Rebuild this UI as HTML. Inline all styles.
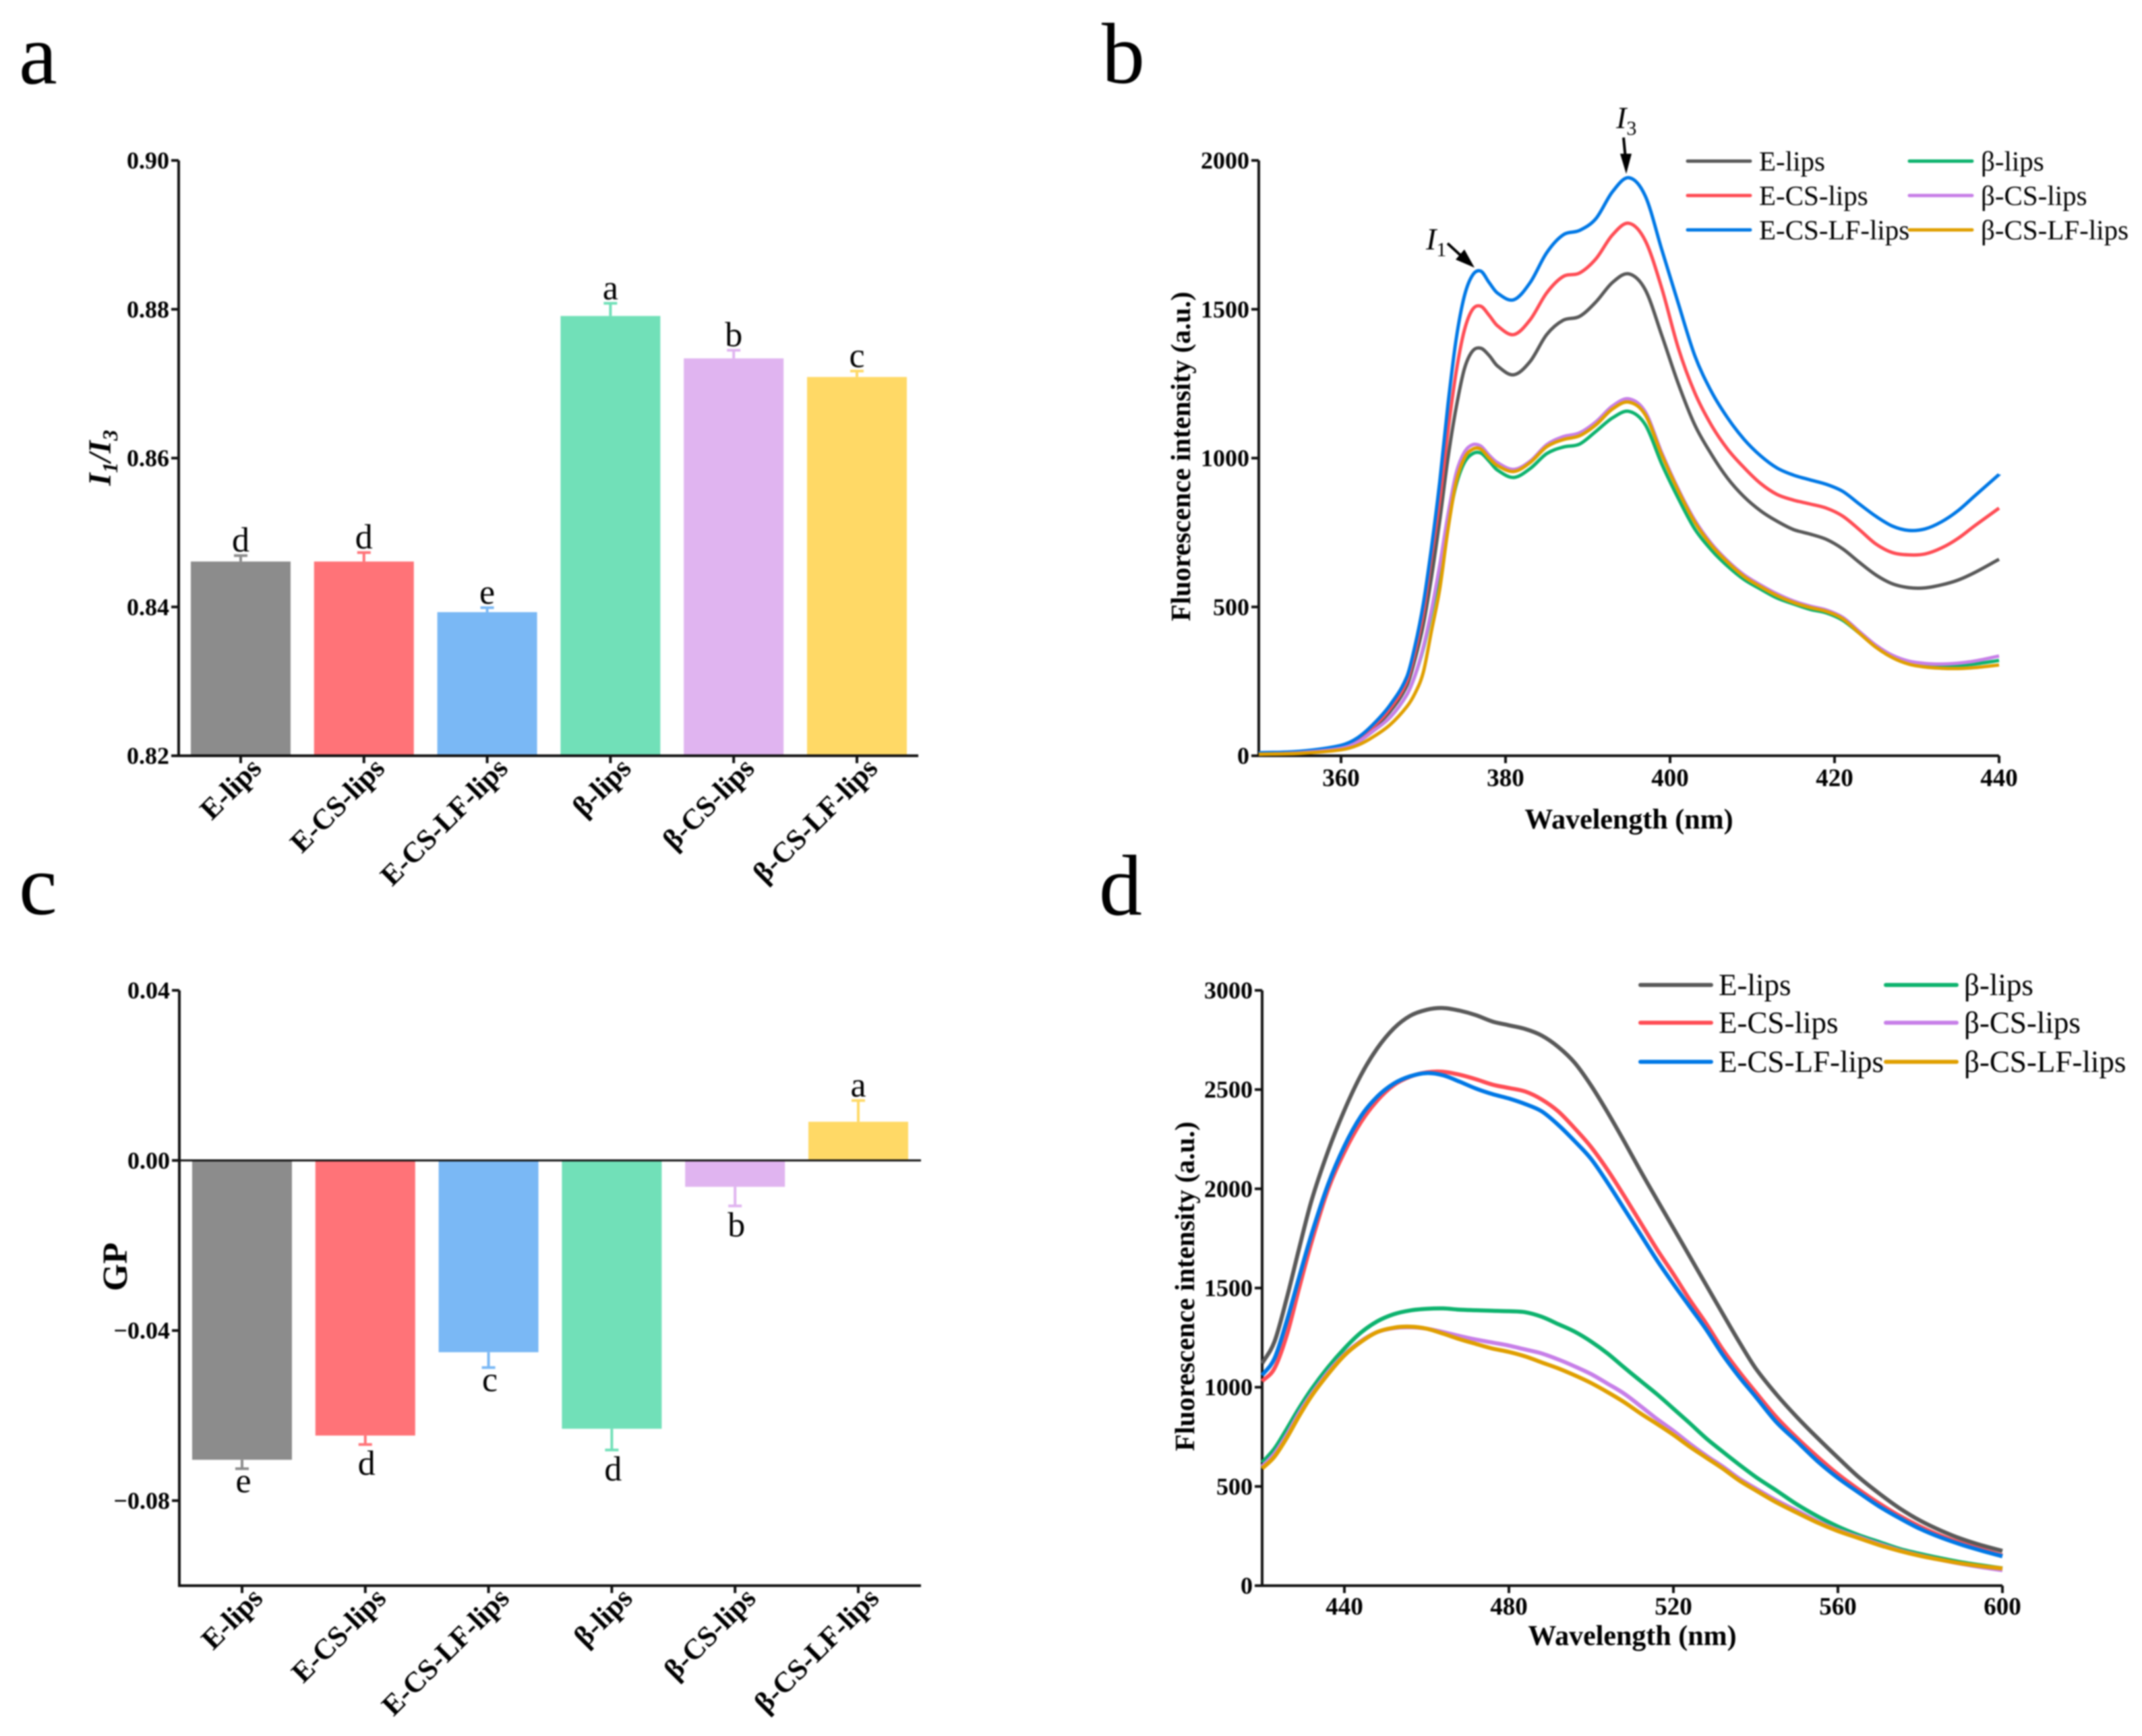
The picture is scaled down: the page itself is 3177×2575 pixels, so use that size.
<!DOCTYPE html>
<html lang="en">
<head>
<meta charset="utf-8">
<title>Fluorescence figure</title>
<style>
html,body{margin:0;padding:0;background:#fff;}
body{width:3177px;height:2575px;overflow:hidden;}
#figure{display:block;filter:blur(1.1px);font-family:"Liberation Serif",serif;}
</style>
</head>
<body>
<svg id="figure" xmlns="http://www.w3.org/2000/svg" width="3177" height="2575" viewBox="0 0 3177 2575">
  <rect x="0" y="0" width="3177" height="2575" fill="#ffffff"/>
  <text x="28" y="124" font-size="128">a</text>
  <text x="1634" y="123" font-size="128">b</text>
  <text x="28" y="1356" font-size="128">c</text>
  <text x="1630" y="1357" font-size="128">d</text>

  <text transform="translate(164,679) rotate(-90)" text-anchor="middle" font-size="48" font-weight="bold" font-style="italic">I<tspan font-size="32" dy="10">1</tspan><tspan dy="-10">/I</tspan><tspan font-size="32" dy="10">3</tspan></text>
  <text transform="translate(188,1879) rotate(-90)" text-anchor="middle" font-size="52" font-weight="bold">GP</text>
  <text transform="translate(1765,677) rotate(-90)" text-anchor="middle" font-size="41" font-weight="bold">Fluorescence intensity (a.u.)</text>
  <text transform="translate(1771,1908) rotate(-90)" text-anchor="middle" font-size="41" font-weight="bold">Fluorescence intensity (a.u.)</text>
  <text x="2416" y="1229" text-anchor="middle" font-size="42" font-weight="bold">Wavelength (nm)</text>
  <text x="2421" y="2440" text-anchor="middle" font-size="42" font-weight="bold">Wavelength (nm)</text>

  <g id="panel-a"></g>
  <g id="panel-b"></g>
  <g id="panel-c"></g>
  <g id="panel-d"></g>

  <g>
    <text x="2115" y="370" font-size="46" font-style="italic">I<tspan font-size="30" font-style="normal" dy="10">1</tspan></text>
    <line x1="2147" y1="361" x2="2172" y2="384" stroke="#000" stroke-width="4"/>
    <polygon points="2187,397 2159,385 2172,370" fill="#000"/>
    <text x="2397" y="190" font-size="46" font-style="italic">I<tspan font-size="30" font-style="normal" dy="10">3</tspan></text>
    <line x1="2408" y1="204" x2="2411" y2="235" stroke="#000" stroke-width="4"/>
    <polygon points="2412,258 2403,228 2420,228" fill="#000"/>
  </g>
</svg>
<script>
const categories = ['E-lips', 'E-CS-lips', 'E-CS-LF-lips', 'β-lips', 'β-CS-lips', 'β-CS-LF-lips'];
const barColors = ['#8c8c8c', '#ff7378', '#7ab8f5', '#71e0b8', '#e0b4f0', '#ffd966'];
const lineColors = ['#595959', '#ff4d55', '#0078e6', '#0db36e', '#c77fe8', '#e09f00'];

const aValues = [0.8461, 0.8461, 0.8393, 0.8791, 0.8734, 0.8709];
const aErrors = [0.0008, 0.0012, 0.0006, 0.0017, 0.0011, 0.0008];
const aLetters = ['d', 'd', 'e', 'a', 'b', 'c'];
const aTicks = [0.82, 0.84, 0.86, 0.88, 0.90];
const aTickLabels = ['0.82', '0.84', '0.86', '0.88', '0.90'];

const cValues = [-0.0704, -0.0647, -0.0451, -0.0631, -0.0062, 0.0091];
const cErrors = [0.0021, 0.0021, 0.0036, 0.0050, 0.0045, 0.0050];
const cLetters = ['e', 'd', 'c', 'd', 'b', 'a'];
const cTicks = [-0.08, -0.04, 0, 0.04];
const cTickLabels = ['−0.08', '−0.04', '0.00', '0.04'];

const bWavelengths = [350,355,360,362,364,366,368,369,370,371,372,373,374,375,376,377,378,379,381,383,385,387,389,391,393,395,397,399,401,403,405,407,409,411,413,415,417,419,421,423,425,427,429,431,433,435,437,440];
const bELips =       [8,12,30,50,95,150,235,325,440,600,790,1000,1170,1300,1360,1369,1345,1310,1280,1325,1415,1463,1476,1525,1590,1619,1565,1412,1250,1112,1014,932,870,823,788,760,745,727,695,650,608,578,565,564,574,590,615,660];
const bECSLips =     [8,13,30,55,100,160,250,350,480,670,860,1090,1290,1430,1500,1510,1480,1445,1415,1465,1555,1610,1622,1670,1750,1789,1730,1570,1370,1220,1112,1030,968,915,878,859,846,832,805,760,712,683,675,678,698,730,772,832];
const bECSLFLips =   [10,15,35,60,108,172,265,370,510,700,920,1180,1400,1545,1615,1628,1590,1555,1532,1590,1690,1750,1765,1805,1895,1942,1880,1700,1520,1345,1225,1135,1063,1008,967,943,927,912,888,846,805,772,757,762,786,823,872,945];
const bBetaLips =    [5,10,25,45,85,130,205,270,360,480,620,780,910,985,1015,1017,990,960,935,965,1015,1037,1047,1090,1135,1157,1112,980,865,762,692,637,592,560,530,510,492,480,455,412,368,332,312,303,300,303,308,320];
const bBetaCSLips =  [5,10,25,45,85,130,205,270,365,490,640,810,950,1020,1045,1040,1010,985,962,990,1045,1072,1085,1122,1175,1199,1155,1018,896,792,714,655,608,574,544,520,503,490,465,418,372,338,318,310,308,311,318,335];
const bBetaCSLFLips =[5,8,20,35,65,105,165,210,280,420,560,760,920,1000,1030,1030,1000,975,955,985,1038,1062,1075,1112,1165,1188,1145,1010,890,785,708,650,602,568,538,515,498,485,460,412,365,330,308,298,294,293,296,305];
const bXTicks = [360, 380, 400, 420, 440];
const bYTicks = [0, 500, 1000, 1500, 2000];

const dWavelengths = [420,423,426,429,432,436,440,444,448,452,456,460,464,468,472,476,480,484,488,492,496,500,504,508,512,516,520,524,528,532,536,540,545,550,555,560,565,570,575,580,585,590,595,600];
const dELips =       [1120,1230,1450,1700,1940,2188,2396,2572,2708,2808,2872,2902,2911,2898,2875,2843,2824,2805,2772,2715,2635,2520,2385,2240,2090,1945,1802,1658,1514,1370,1228,1095,965,850,745,645,548,465,390,328,278,236,203,175];
const dECSLips =     [1030,1095,1263,1500,1730,1995,2185,2335,2445,2522,2565,2587,2590,2575,2552,2525,2508,2490,2450,2390,2305,2210,2095,1965,1830,1695,1570,1440,1320,1190,1078,975,850,745,650,562,485,415,352,298,252,214,182,152];
const dECSLFLips =   [1060,1145,1335,1555,1770,2020,2215,2365,2465,2530,2567,2583,2572,2540,2505,2477,2455,2427,2390,2322,2240,2150,2030,1900,1770,1640,1520,1405,1290,1163,1052,952,825,727,628,543,470,400,340,286,243,207,176,148];
const dBetaLips =    [620,690,790,895,990,1100,1195,1275,1332,1368,1387,1395,1397,1391,1388,1385,1383,1378,1355,1318,1280,1230,1170,1100,1032,965,892,818,742,675,610,548,480,410,350,298,255,220,185,160,138,118,102,87];
const dBetaCSLips =  [600,665,760,870,965,1075,1165,1232,1278,1298,1302,1295,1278,1258,1240,1225,1210,1190,1170,1140,1105,1066,1018,968,905,840,780,715,655,600,540,490,430,378,325,280,245,210,178,152,130,110,93,78];
const dBetaCSLFLips =[590,650,745,855,955,1065,1160,1228,1278,1300,1305,1295,1270,1242,1218,1195,1178,1155,1125,1095,1060,1021,975,925,868,815,760,700,645,590,530,480,420,368,318,275,240,205,175,150,130,112,98,87];
const dXTicks = [440, 480, 520, 560, 600];
const dYTicks = [0, 500, 1000, 1500, 2000, 2500, 3000];

const SVG_NS = 'http://www.w3.org/2000/svg';

function make(tag, parent, props) {
  const node = document.createElementNS(SVG_NS, tag);
  for (const key in props) node.setAttribute(key, props[key]);
  parent.appendChild(node);
  return node;
}

function linear(d0, d1, r0, r1) {
  return function (v) { return r0 + (v - d0) / (d1 - d0) * (r1 - r0); };
}

function drawAxes(g, box, yScale, yTicks, yLabels, xTickPositions, xLabels, prefix) {
  let el = make('line', g, {x1: box.left, y1: box.top, x2: box.left, y2: box.bottom + 2, stroke: '#111', 'stroke-width': 4});
  
  
  el = make('line', g, {x1: box.left - 2, y1: box.bottom, x2: box.right, y2: box.bottom, stroke: '#111', 'stroke-width': 4});
  
  
  yTicks.forEach(function (t, i) {
    const y = yScale(t);
    let m = make('line', g, {x1: box.left - 11, y1: y, x2: box.left, y2: y, stroke: '#111', 'stroke-width': 4});
    
    
    m = make('text', g, {x: box.left - 14, y: y + 12, 'text-anchor': 'end', 'font-size': 36, 'font-weight': 'bold'});
    m.textContent = yLabels[i];
    
    
  });
  xTickPositions.forEach(function (x, i) {
    const m = make('line', g, {x1: x, y1: box.bottom, x2: x, y2: box.bottom + 11, stroke: '#111', 'stroke-width': 4});
    
    
    if (xLabels) {
      const t = make('text', g, {x: x, y: box.bottom + box.xLabelDy, 'text-anchor': 'middle', 'font-size': 37, 'font-weight': 'bold'});
      t.textContent = xLabels[i];
      
      
    }
  });
}

function drawBars(g, box, yDomain, baseValue, values, errors, letters, yTicks, yLabels, prefix) {
  const yScale = linear(yDomain[0], yDomain[1], box.bottom, box.top);
  const barWidth = 148;
  const step = (box.lastCenter - box.firstCenter) / (categories.length - 1);
  const centers = categories.map(function (c, i) { return box.firstCenter + i * step; });
  const baseY = yScale(baseValue);

  values.forEach(function (v, i) {
    const cx = centers[i];
    const y = yScale(v);
    const sign = v >= baseValue ? 1 : -1;
    const capY = yScale(v + sign * errors[i]);

    const bar = make('rect', g, {x: cx - barWidth / 2, y: Math.min(y, baseY), width: barWidth, height: Math.abs(baseY - y), fill: barColors[i]});
    
    

    const stem = make('line', g, {x1: cx, y1: y, x2: cx, y2: capY, stroke: barColors[i], 'stroke-width': 4});
    
    

    const cap = make('line', g, {x1: cx - 10, y1: capY, x2: cx + 10, y2: capY, stroke: barColors[i], 'stroke-width': 4});
    
    

    const letter = letters[i];
    const below = sign < 0;
    const textY = below ? capY + (letter === 'b' || letter === 'd' ? 45 : 35) : capY - 6;
    const sig = make('text', g, {x: cx + (below ? 2 : 0), y: textY, 'text-anchor': 'middle', 'font-size': 52});
    sig.textContent = letter;
    
    
  });

  if (baseValue !== yDomain[0]) {
    const zero = make('line', g, {x1: box.left, y1: baseY, x2: box.right, y2: baseY, stroke: '#111', 'stroke-width': 3});
    
    
  }

  drawAxes(g, box, yScale, yTicks, yLabels, centers, null, prefix);

  centers.forEach(function (cx, i) {
    const px = cx + 33;
    const py = box.bottom + 21;
    const label = make('text', g, {transform: 'translate(' + px + ',' + py + ') rotate(-45)', 'text-anchor': 'end', 'font-size': 43, 'font-weight': 'bold'});
    label.textContent = categories[i];
    
    
  });
}

function smoothPath(xs, ys) {
  const n = xs.length;
  const m = [];
  for (let i = 0; i < n; i++) {
    if (i === 0) m.push((ys[1] - ys[0]) / (xs[1] - xs[0]));
    else if (i === n - 1) m.push((ys[n - 1] - ys[n - 2]) / (xs[n - 1] - xs[n - 2]));
    else m.push((ys[i + 1] - ys[i - 1]) / (xs[i + 1] - xs[i - 1]));
  }
  let d = 'M' + xs[0].toFixed(1) + ' ' + ys[0].toFixed(1);
  for (let i = 0; i < n - 1; i++) {
    const h = (xs[i + 1] - xs[i]) / 3;
    d += 'C' + (xs[i] + h).toFixed(1) + ' ' + (ys[i] + m[i] * h).toFixed(1) + ' ' +
         (xs[i + 1] - h).toFixed(1) + ' ' + (ys[i + 1] - m[i + 1] * h).toFixed(1) + ' ' +
         xs[i + 1].toFixed(1) + ' ' + ys[i + 1].toFixed(1);
  }
  return d;
}

function drawLines(g, box, xDomain, yDomain, xValues, series, xTicks, yTicks, legend, prefix) {
  const xScale = linear(xDomain[0], xDomain[1], box.left, box.right);
  const yScale = linear(yDomain[0], yDomain[1], box.bottom, box.top);

  drawAxes(g, box, yScale, yTicks, yTicks.map(String), xTicks.map(xScale), xTicks.map(String), prefix);

  const xs = xValues.map(xScale);
  series.forEach(function (vals, i) {
    const p = make('path', g, {d: smoothPath(xs, vals.map(yScale)), fill: 'none', stroke: lineColors[i], 'stroke-width': legend.width, 'stroke-linejoin': 'round'});
    
    
  });

  categories.forEach(function (name, i) {
    const col = i < 3 ? 0 : 1;
    const row = i % 3;
    const y = legend.ys[row];
    const ln = make('line', g, {x1: legend.lineX[col], y1: y, x2: legend.lineX[col] + legend.lineLen, y2: y, stroke: lineColors[i], 'stroke-width': legend.width, 'stroke-linecap': 'round'});
    
    
    const t = make('text', g, {x: legend.textX[col], y: y + legend.textDy, 'font-size': legend.fontSize});
    t.textContent = name;
    
    
  });
}

drawBars(document.getElementById('panel-a'),
  {left: 265, right: 1362, top: 238, bottom: 1121, firstCenter: 357, lastCenter: 1271},
  [0.82, 0.90], 0.82, aValues, aErrors, aLetters, aTicks, aTickLabels, 'panel-a');

drawBars(document.getElementById('panel-c'),
  {left: 266, right: 1366, top: 1469, bottom: 2352, firstCenter: 359, lastCenter: 1273},
  [-0.10, 0.04], 0, cValues, cErrors, cLetters, cTicks, cTickLabels, 'panel-c');

drawLines(document.getElementById('panel-b'),
  {left: 1867, right: 2965, top: 238, bottom: 1121, xLabelDy: 45},
  [350, 440], [0, 2000], bWavelengths,
  [bELips, bECSLips, bECSLFLips, bBetaLips, bBetaCSLips, bBetaCSLFLips],
  bXTicks, bYTicks,
  {ys: [239, 290, 341], lineX: [2503, 2832], lineLen: 93, textX: [2609, 2938], textDy: 14, fontSize: 41, width: 5},
  'panel-b');

drawLines(document.getElementById('panel-d'),
  {left: 1872, right: 2970, top: 1469, bottom: 2352, xLabelDy: 43},
  [420, 600], [0, 3000], dWavelengths,
  [dELips, dECSLips, dECSLFLips, dBetaLips, dBetaCSLips, dBetaCSLFLips],
  dXTicks, dYTicks,
  {ys: [1461, 1517, 1575], lineX: [2433, 2797], lineLen: 105, textX: [2549, 2913], textDy: 15, fontSize: 45, width: 6},
  'panel-d');
</script>
</body>
</html>
